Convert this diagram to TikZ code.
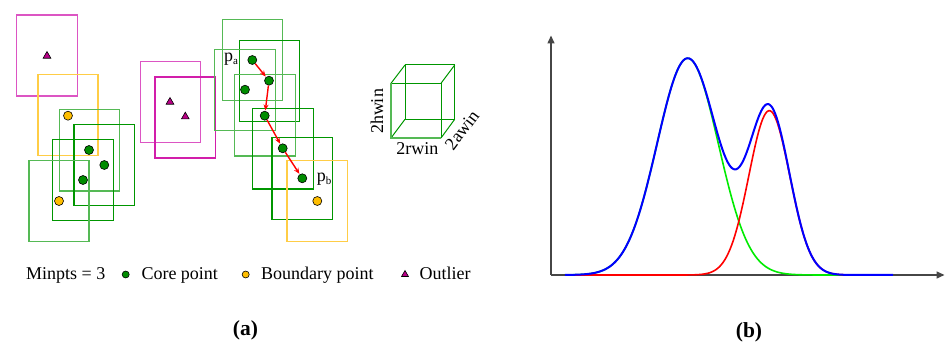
\documentclass[tikz,border=0pt]{standalone}
\usepackage{fontspec}
\setmainfont{Liberation Serif}
\usetikzlibrary{arrows.meta,shapes.geometric}
\definecolor{dkgreen}{RGB}{0,150,0}
\definecolor{ltgreen}{RGB}{85,185,85}
\definecolor{magbox}{RGB}{210,30,170}
\definecolor{ltmag}{RGB}{220,85,195}
\definecolor{ybox}{RGB}{255,205,70}
\definecolor{coreg}{RGB}{0,140,0}
\definecolor{bndy}{RGB}{255,190,0}
\definecolor{outl}{RGB}{185,0,135}
\definecolor{axisgray}{RGB}{70,70,70}
\definecolor{gcurve}{RGB}{0,235,0}
\definecolor{rcurve}{RGB}{255,0,0}
\definecolor{bcurve}{RGB}{0,0,255}
\begin{document}
\begin{tikzpicture}[x=1pt,y=-1pt,
  dkbox/.style={draw=dkgreen,line width=1.1pt},
  ltbox/.style={draw=ltgreen,line width=1.3pt},
  mbox/.style={draw=magbox,line width=1.1pt},
  lmbox/.style={draw=ltmag,line width=1.2pt},
  yelbox/.style={draw=ybox,line width=1.2pt},
  core/.style={circle,draw=black,fill=coreg,line width=0.6pt,minimum size=9pt,inner sep=0pt},
  bnd/.style={circle,draw=black,fill=bndy,line width=0.6pt,minimum size=9pt,inner sep=0pt},
  outlier/.style={regular polygon,regular polygon sides=3,draw=black,fill=outl,line width=0.6pt,minimum size=9pt,inner sep=0pt},
  lcore/.style={core,minimum size=7pt},
  lbnd/.style={bnd,minimum size=7pt},
  loutlier/.style={outlier,minimum size=8pt},
  lbl/.style={font=\fontsize{18}{20}\selectfont,inner sep=0pt},
  caplbl/.style={font=\fontsize{21.5}{24}\selectfont\bfseries,inner sep=0pt},
  hop/.style={draw=red,line width=1.4pt,-{Stealth[length=6pt,width=5pt]},shorten >=0.5pt},
  axis/.style={draw=axisgray,line width=1.5pt,-{Triangle[length=8pt,width=7pt]}},
  cube/.style={draw=dkgreen,line width=1pt},
]
\useasboundingbox (0,0) rectangle (945,347);

% ---------- left cluster ----------
\draw[lmbox] (16.7,15) rectangle (77.3,96);
\draw[yelbox] (38,74.7) rectangle (98,155.7);
\draw[ltbox] (59.3,109.7) rectangle (119.3,191);
\draw[dkbox] (74,124.7) rectangle (134.3,205.7);
\draw[dkbox] (52.7,139.3) rectangle (113.3,220.3);
\draw[ltbox] (29,160.7) rectangle (89,241.7);

\node[outlier] (o1) at (47,56) {};
\node[bnd] (b1) at (68,115.7) {};
\node[core] (c1) at (89,150) {};
\node[core] (c2) at (104.3,165) {};
\node[core] (c3) at (83,180) {};
\node[bnd] (b2) at (59,201) {};

% ---------- outlier pair ----------
\draw[lmbox] (140.3,61.7) rectangle (200.3,142.7);
\draw[mbox] (155,77) rectangle (215.3,158);
\node[outlier] (o2) at (170,102) {};
\node[outlier] (o3) at (185.3,116.7) {};

% ---------- chain cluster ----------
\draw[ltbox] (222.3,19.7) rectangle (282.7,100.3);
\draw[dkbox] (239.3,40.3) rectangle (299.3,121.3);
\draw[ltbox] (214.7,49.3) rectangle (275.3,130.3);
\draw[ltbox] (234.3,74.7) rectangle (295.3,156);
\draw[dkbox] (252.3,108.3) rectangle (313.3,189);
\draw[dkbox] (272,137.7) rectangle (332.7,219.3);
\draw[yelbox] (287,160.7) rectangle (347.3,241.3);

\node[core] (pa) at (252.3,60) {};
\node[core] (d2) at (269,80.7) {};
\node[core] (d3) at (245,89.7) {};
\node[core] (d4) at (264.7,115.7) {};
\node[core] (d5) at (282.7,148.3) {};
\node[core] (pb) at (302.3,178.3) {};
\node[bnd] (b3) at (317.3,201) {};

\node[lbl,anchor=base] (palbl) at (231,62) {p\raisebox{-0.35ex}{\fontsize{11}{12}\selectfont a}};
\node[lbl,anchor=base] (pblbl) at (324,182) {p\raisebox{-0.35ex}{\fontsize{11}{12}\selectfont b}};

\draw[hop] (pa) -- (d2);
\draw[hop] (d2) -- (d4);
\draw[hop] (d4) -- (d5);
\draw[hop] (d5) -- (pb);

% ---------- cube ----------
\draw[cube] (405,65) rectangle (454.7,119.3);
\draw[cube] (391,83.3) rectangle (441,138);
\draw[cube] (391,83.3) -- (405,65);
\draw[cube] (441,83.3) -- (454.7,65);
\draw[cube] (441,138) -- (454.7,119.3);
\draw[cube] (391,138) -- (405,119.3);
\draw[draw=ltgreen,line width=1.5pt] (391,83.3) -- (391,138) -- (441,138);
\node[lbl,rotate=90] (hwin) at (377,111.5) {2hwin};
\node[lbl] (rwin) at (417.3,148.5) {2rwin};
\node[lbl,rotate=53] (awin) at (462,130) {2awin};

% ---------- legend ----------
\node[lbl,anchor=base west] (minpts) at (26,280) {Minpts = 3};
\node[lcore] (lc) at (125.7,274.5) {};
\node[lbl,anchor=base west] (lct) at (141.3,280) {Core point};
\node[lbnd] (lb) at (245.7,274.5) {};
\node[lbl,anchor=base west] (lbt) at (261,280) {Boundary point};
\node[loutlier] (lo) at (405,274.5) {};
\node[lbl,anchor=base west] (lot) at (419.3,280) {Outlier};

\node[caplbl] (capa) at (245.5,330.5) {(a)};
\node[caplbl] (capb) at (749,332.5) {(b)};

% ---------- plot (b) ----------
\draw[axis] (551,275) -- (551,35.5);
\draw[axis] (551,275) -- (944.5,275);

\draw[gcurve,line width=1.6pt] plot[domain=565:893,samples=220,smooth]
  (\x,{275-216.7*exp(-0.5*((\x-687.7)/30.6)^2)});
\draw[rcurve,line width=1.6pt] plot[domain=565:893,samples=220,smooth]
  (\x,{275-164.3*exp(-0.5*((\x-769.3)/20.4)^2)});
\draw[bcurve,line width=2pt] plot[domain=565:893,samples=260,smooth]
  (\x,{275-216.7*exp(-0.5*((\x-687.7)/30.6)^2)-164.3*exp(-0.5*((\x-769.3)/20.4)^2)});
\end{tikzpicture}
\end{document}
